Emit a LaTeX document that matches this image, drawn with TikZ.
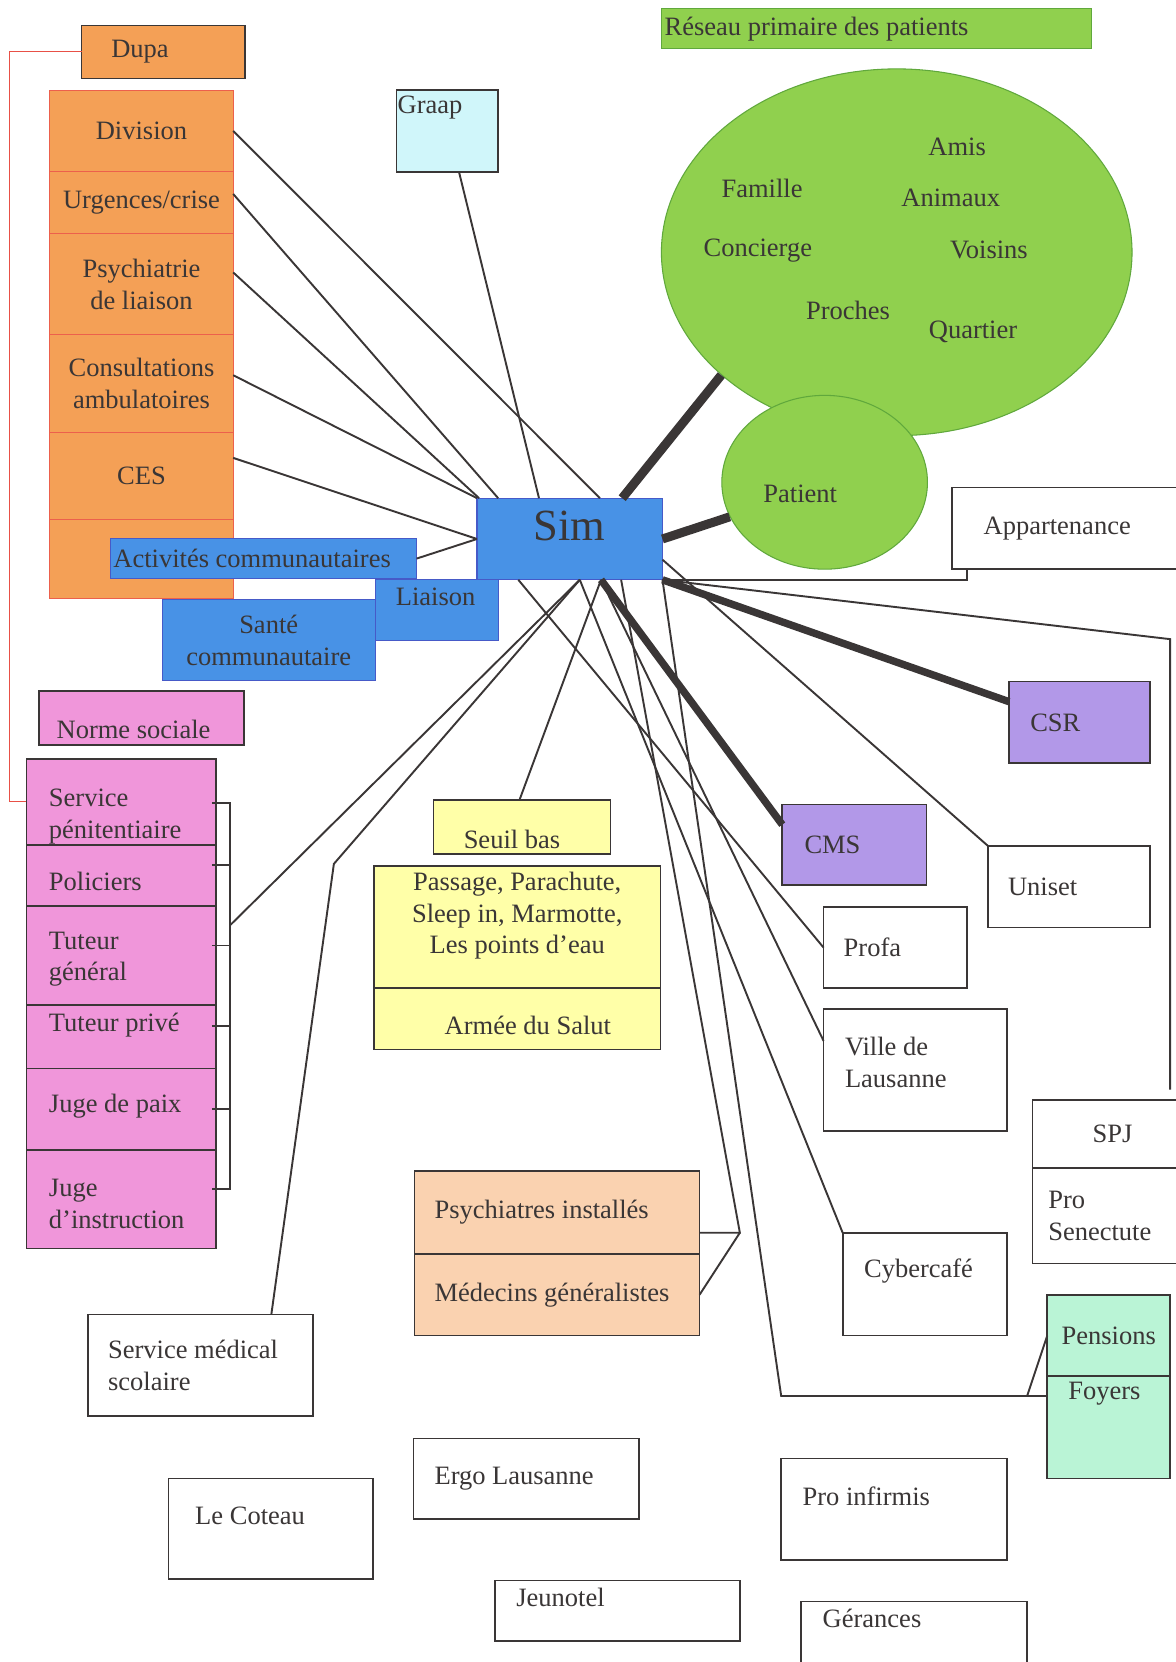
\documentclass[tikz,border=0pt]{standalone}
\usepackage{fontspec}
\setmainfont{Liberation Serif}
\usepackage{tikz}
\usetikzlibrary{shapes.geometric, positioning}

\definecolor{inkgray}{RGB}{58,54,54}
\definecolor{orangefill}{RGB}{244,160,86}
\definecolor{orangeline}{RGB}{236,96,76}
\definecolor{simblue}{RGB}{72,146,230}
\definecolor{blueline}{RGB}{70,90,200}
\definecolor{graapcyan}{RGB}{208,246,250}
\definecolor{netgreen}{RGB}{144,208,78}
\definecolor{netline}{RGB}{96,168,60}
\definecolor{pinkfill}{RGB}{240,150,218}
\definecolor{yellowfill}{RGB}{255,255,168}
\definecolor{peachfill}{RGB}{250,210,176}
\definecolor{purplefill}{RGB}{178,152,232}
\definecolor{mintfill}{RGB}{186,244,214}
\definecolor{redtrace}{RGB}{232,80,70}

\tikzstyle{box} = [rectangle, draw=inkgray, line width=1.6pt, inner sep=0pt, outer sep=0pt, text=inkgray]
\tikzstyle{cell} = [box, draw=orangeline, line width=1pt, fill=orangefill, minimum width=173pt, align=center]
\tikzstyle{pcell} = [box, fill=pinkfill, minimum width=179pt]
\tikzstyle{bluebox} = [box, draw=blueline, line width=1pt, fill=simblue]
\tikzstyle{txt} = [inner sep=0pt, anchor=west, align=flush left, text=inkgray]
\tikzstyle{ctxt} = [inner sep=0pt, align=center, text=inkgray]
\tikzstyle{link} = [draw=inkgray, line width=1.8pt]
\tikzstyle{strong} = [draw=inkgray, line width=7pt]
\tikzstyle{redlink} = [draw=redtrace, line width=1pt]

\begin{document}
\begin{tikzpicture}[x=1pt, y=-1pt, font=\fontsize{25}{30}\selectfont]
        \path[use as bounding box, fill=white] (0,0) rectangle (1109,1568);

        % psychiatrie (orange)
        \node[box, fill=orangefill, minimum width=154pt, minimum height=50pt, text width=98pt, align=flush left] (dupa) at (154,49) {Dupa};
        \node[cell, minimum height=77pt] (division) at (133.5,123.5) {Division};
        \node[cell, minimum height=58pt, below=0pt of division] (urgences) {Urgences/crise};
        \node[cell, minimum height=96pt, below=0pt of urgences] (psyliaison) {Psychiatrie\\de liaison};
        \node[cell, minimum height=92pt, below=0pt of psyliaison] (consult) {Consultations\\ambulatoires};
        \node[cell, minimum height=82pt, below=0pt of consult] (ces) {CES};
        \node[cell, minimum height=75pt, below=0pt of ces] (orangeend) {};

        \node[box, fill=graapcyan, minimum width=96pt, minimum height=77pt] (graap) at (422,123.5) {};
        \node[txt] (graaptxt) at (375,101) {Graap};

        % reseau primaire
        \node[box, draw=netline, line width=1pt, fill=netgreen, minimum width=406pt, minimum height=38pt, text width=400pt, align=flush left] (reseau) at (827,27) {Réseau primaire des patients};
        \node[ellipse, draw=netline, line width=1pt, fill=netgreen, minimum width=444pt, minimum height=346pt] (net) at (846,238) {};
        \node[ellipse, draw=netline, line width=1pt, fill=netgreen, minimum width=194pt, minimum height=164pt] (patient) at (778,455) {};
        \node[ctxt] (amis) at (903,139) {Amis};
        \node[ctxt] (famille) at (719,178) {Famille};
        \node[ctxt] (animaux) at (897,187) {Animaux};
        \node[ctxt] (concierge) at (715,236) {Concierge};
        \node[ctxt] (voisins) at (933,236) {Voisins};
        \node[ctxt] (proches) at (800,293) {Proches};
        \node[ctxt] (quartier) at (918,313) {Quartier};
        \node[ctxt] (patienttxt) at (755,466) {Patient};

        % Sim and blue boxes
        \node[bluebox, minimum width=175pt, minimum height=77pt] (sim) at (537.5,508.5) {};
        \node[ctxt, font=\fontsize{42}{42}\selectfont] (simtxt) at (537,496) {Sim};
        \node[bluebox, minimum width=289pt, minimum height=38pt, text width=283pt, align=flush left] (activites) at (248.5,527) {Activités communautaires};
        \node[bluebox, minimum width=116pt, minimum height=57pt] (liaison) at (412,575.5) {};
        \node[ctxt] (liaisontxt) at (411,563) {Liaison};
        \node[bluebox, minimum width=201pt, minimum height=76pt, align=center] (sante) at (253.5,604) {Santé\\communautaire};

        % norme sociale (pink)
        \node[box, fill=pinkfill, minimum width=193pt, minimum height=51pt] (norme) at (133.5,677.5) {};
        \node[ctxt] (normetxt) at (126,688) {Norme sociale};
        \node[pcell, minimum height=81pt] (servpen) at (114.5,756.5) {};
        \node[pcell, minimum height=58pt, below=0pt of servpen] (policiers) {};
        \node[pcell, minimum height=93pt, below=0pt of policiers] (tutgen) {};
        \node[pcell, minimum height=60pt, below=0pt of tutgen] (tutpriv) {};
        \node[pcell, minimum height=77pt, below=0pt of tutpriv] (jugepaix) {};
        \node[pcell, minimum height=93pt, below=0pt of jugepaix] (jugeinstr) {};
        \node[txt] (servtxt) at (46,770) {Service\\pénitentiaire};
        \node[txt] (policierstxt) at (46,832) {Policiers};
        \node[txt] (tutgentxt) at (46,905) {Tuteur\\général};
        \node[txt] (tutprivtxt) at (46,967) {Tuteur privé};
        \node[txt] (jugepaixtxt) at (46,1044) {Juge de paix};
        \node[txt] (jugeinstrtxt) at (46,1136) {Juge\\d’instruction};

        % seuil bas (yellow)
        \node[box, fill=yellowfill, minimum width=167pt, minimum height=51pt] (seuil) at (492.5,780.5) {};
        \node[ctxt] (seuiltxt) at (483,792) {Seuil bas};
        \node[box, fill=yellowfill, minimum width=270pt, minimum height=115pt] (passage) at (488,874.5) {};
        \node[box, fill=yellowfill, minimum width=270pt, minimum height=58pt, below=0pt of passage] (armee) {};
        \node[ctxt] (passagetxt) at (488,864) {Passage, Parachute,\\Sleep in, Marmotte,\\Les points d’eau};
        \node[ctxt] (armeetxt) at (498,967) {Armée du Salut};

        \node[box, fill=peachfill, minimum width=269pt, minimum height=78pt, text width=231pt, align=flush left] (psyinst) at (525.5,1144) {Psychiatres installés};
        \node[box, fill=peachfill, minimum width=269pt, minimum height=77pt, text width=231pt, align=flush left, below=0pt of psyinst] (medgen) {Médecins généralistes};

        % right side
        \node[box, fill=purplefill, minimum width=133pt, minimum height=77pt, text width=93pt, align=flush left] (csr) at (1018.5,681.5) {CSR};
        \node[box, fill=purplefill, minimum width=136pt, minimum height=76pt, text width=94pt, align=flush left] (cms) at (806,797) {CMS};
        \node[box, minimum width=227pt, minimum height=77pt, text width=167pt, align=flush left] (appart) at (1011.5,498.5) {Appartenance};
        \node[box, minimum width=153pt, minimum height=77pt, text width=115pt, align=flush left] (uniset) at (1008.5,836.5) {Uniset};
        \node[box, minimum width=135pt, minimum height=76pt, text width=97pt, align=flush left] (profa) at (844.5,894) {Profa};
        \node[box, minimum width=173pt, minimum height=115pt] (ville) at (863.5,1009.5) {};
        \node[txt] (villetxt) at (797,1002) {Ville de\\Lausanne};
        \node[box, minimum width=151pt, minimum height=64pt] (spj) at (1049.5,1070) {SPJ};
        \node[box, minimum width=151pt, minimum height=90pt, text width=121pt, align=flush left, below=0pt of spj] (prosen) {Pro\\Senectute};
        \node[box, minimum width=155pt, minimum height=97pt] (cyber) at (872.5,1211.5) {};
        \node[txt] (cybertxt) at (815,1199) {Cybercafé};
        \node[box, fill=mintfill, minimum width=116pt, minimum height=76pt] (pensions) at (1046,1260) {Pensions};
        \node[box, fill=mintfill, minimum width=116pt, minimum height=97pt, below=0pt of pensions] (foyers) {};
        \node[ctxt] (foyerstxt) at (1042,1315) {Foyers};

        % bottom boxes
        \node[box, minimum width=212pt, minimum height=96pt, text width=174pt, align=flush left] (sms) at (189,1288) {Service médical\\scolaire};
        \node[box, minimum width=213pt, minimum height=76pt, text width=173pt, align=flush left] (ergo) at (496.5,1395) {Ergo Lausanne};
        \node[box, minimum width=193pt, minimum height=95pt] (coteau) at (255.5,1442.5) {};
        \node[txt] (coteautxt) at (184,1430) {Le Coteau};
        \node[box, minimum width=231pt, minimum height=57pt] (jeunotel) at (582.5,1519.5) {};
        \node[txt] (jeunoteltxt) at (487,1507) {Jeunotel};
        \node[box, minimum width=213pt, minimum height=96pt] (infirmis) at (843.5,1424) {};
        \node[txt] (infirmistxt) at (757,1412) {Pro infirmis};
        \node[box, minimum width=213pt, minimum height=79pt] (gerances) at (862.5,1550.5) {};
        \node[txt] (gerancestxt) at (776,1527) {Gérances};

        % bend points
        \coordinate (simB1) at ([xshift=-48.5pt]sim.south);
        \coordinate (simB2) at ([xshift=9.5pt]sim.south);
        \coordinate (simB3) at ([xshift=29.5pt]sim.south);
        \coordinate (simB4) at ([xshift=48.5pt]sim.south);
        \coordinate (bracketMid) at (217,873);
        \coordinate (smsBend) at (315,815);
        \coordinate (psyBend) at (698,1163);
        \coordinate (pensBend) at (737,1317);
        \coordinate (pensJoin) at (969,1317);
        \coordinate (edgeBend) at (1104,603);
        \coordinate (edgeEnd) at (1104,1028);

        % bracket of the pink column
        \draw[link] (200,758) -- (217,758) -- (217,1122) -- (200,1122);
        \foreach \y in {816,892,968,1046}
            \draw[link] (200,\y) -- (217,\y);

        \draw[redlink] (dupa.west) -| ([xshift=-16pt]servpen.west) -- (servpen.west);

        \draw[link] (division.east) -- ([xshift=28.5pt]sim.north);
        \draw[link] ([yshift=8pt]urgences.east) -- ([xshift=-67.5pt]sim.north);
        \draw[link] ([yshift=11pt]psyliaison.east) -- ([xshift=2pt]sim.north west);
        \draw[link] ([yshift=8pt]consult.east) -- (sim.north west);
        \draw[link] ([yshift=17pt]ces.east) -- (sim.west);
        \draw[link] (activites.east) -- (sim.west);
        \draw[link] ([xshift=11pt]graap.south) -- ([xshift=-29pt]sim.north);

        \draw[strong, line width=8.5pt] ([xshift=49.5pt]sim.north) -- (net.215);
        \draw[strong, line width=8.5pt] (sim.east) -- (patient.200);
        \draw[strong] (sim.south east) -- ([yshift=19.5pt]csr.west);
        \draw[strong] (simB3) -- ([yshift=19pt]cms.west);

        \draw[link] (sim.south east) -| ([xshift=14pt]appart.south west);
        \draw[link] (sim.south east) -- (edgeBend) -- (edgeEnd);
        \draw[link] ([yshift=-19.5pt]sim.east) -- (uniset.north west);

        \draw[link] (simB1) -- (profa.west);
        \draw[link] (simB2) -- (bracketMid);
        \draw[link] (simB2) -- (smsBend) -- ([xshift=67pt]sms.north);
        \draw[link] (simB2) -- (cyber.north west);
        \draw[link] (simB3) -- ([xshift=-2.5pt]seuil.north);
        \draw[link] (simB3) -- ([yshift=27.5pt]ville.west);
        \draw[link] (simB4) -- (psyBend) -- ([yshift=-19pt]psyinst.east);
        \draw[link] (psyBend) -- (medgen.east);
        \draw[link] (sim.south east) -- (pensBend) -- ([yshift=29.5pt]foyers.west);
        \draw[link] (pensJoin) -- (pensions.west);

\end{tikzpicture}
\end{document}
